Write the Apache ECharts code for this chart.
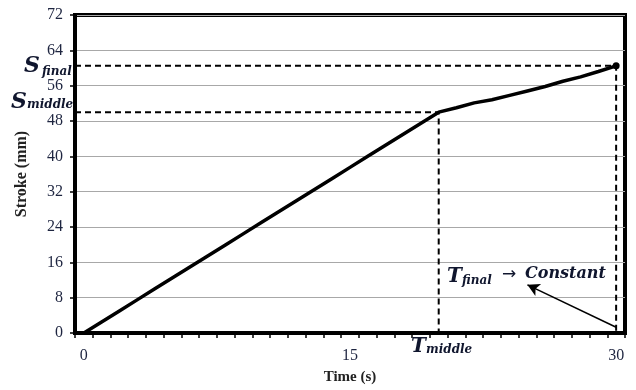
<!DOCTYPE html>
<html>
<head>
<meta charset="utf-8">
<script src="https://cdn.jsdelivr.net/npm/echarts@6/dist/echarts.min.js"></script>
<style>html,body{margin:0;padding:0;background:#fff}#c{width:636px;height:390px}</style>
</head>
<body>
<div id="c"></div>
<script>
// Time categories (s)
var times = [0,1,2,3,4,5,6,7,8,9,10,11,12,13,14,15,16,17,18,19,20,21,22,23,24,25,26,27,28,29,30];
// Stroke (mm)
var stroke = [0,2.5,5,7.5,10,12.5,15,17.5,20,22.5,25,27.5,30,32.5,35,37.5,40,42.5,45,47.5,50,51,52.1,52.8,53.8,54.8,55.8,57,58,59.2,60.5];
var xTickLabels = ['0','15','30'];
var yTicks = {min:0, max:72, step:8};
var tMiddle = 20, sMiddle = 50;
var tFinal = 30, sFinal = 60.5;
var arrowFrom = [30, 1.3], arrowTo = [25, 10.9];

var pts = times.map(function(t,i){
  var p = {value:[t, stroke[i]]};
  if (i === times.length-1) { p.symbol = 'circle'; p.symbolSize = 7; }
  return p;
});
var labelColor = '#1e2540';
var serif = '"Liberation Serif", "Times New Roman", serif';
var mathFont = '"DejaVu Serif", serif';
var annColor = '#10162e';

function mtext(txt, left, top, size){
  return {type:'text', left:left, top:top, z:10,
    style:{text:txt, fontFamily:mathFont, fontStyle:'italic', fontWeight:'bold', fontSize:size, fill:annColor}};
}

var chart = echarts.init(document.getElementById('c'));
chart.setOption({
  animation:false,
  grid:{left:75,right:11,top:15,bottom:57,show:true,borderColor:'#000',borderWidth:4,backgroundColor:'#fff'},
  xAxis:[{
    type:'category', data:times.map(String), boundaryGap:true,
    axisLine:{lineStyle:{color:'#000',width:4}},
    axisTick:{show:true,interval:0,length:5,lineStyle:{color:'#000',width:1.5}},
    axisLabel:{interval:0,margin:15,color:labelColor,fontFamily:serif,fontSize:16,
      formatter:function(v){return xTickLabels.indexOf(v)>=0?v:'';}},
    splitLine:{show:false},
    name:'Time (s)',nameLocation:'middle',nameGap:37,
    nameTextStyle:{fontFamily:serif,fontWeight:'bold',fontSize:15,color:'#222'}
  },{
    type:'value', min:-0.5, max:30.5, show:false
  }],
  yAxis:{
    type:'value', min:yTicks.min, max:yTicks.max, interval:yTicks.step,
    axisLine:{show:true,onZero:false,lineStyle:{color:'#000',width:4}},
    axisTick:{show:true,length:5,lineStyle:{color:'#000',width:1.5}},
    axisLabel:{margin:12,color:labelColor,fontFamily:serif,fontSize:16},
    splitLine:{lineStyle:{color:'#a8a8a8',width:1}},
    name:'Stroke (mm)',nameLocation:'middle',nameGap:45,nameRotate:90,
    nameTextStyle:{fontFamily:serif,fontWeight:'bold',fontSize:16,color:'#222'}
  },
  series:[{
    type:'line', xAxisIndex:1, data:[[-0.5,sFinal],[tFinal,sFinal],[tFinal,0]],
    showSymbol:false, lineStyle:{color:'#000',width:2,type:[6,4]}, z:3
  },{
    type:'line', xAxisIndex:1, data:[[-0.5,sMiddle],[tMiddle,sMiddle],[tMiddle,0]],
    showSymbol:false, lineStyle:{color:'#000',width:2,type:[6,4]}, z:3
  },{
    type:'line', xAxisIndex:1, data:pts, showSymbol:true, symbol:'none',
    itemStyle:{color:'#000'}, lineStyle:{color:'#000',width:3.5}, z:5,
    markLine:{silent:true, symbol:['none','arrow'], symbolSize:[10,12],
      lineStyle:{color:'#000',width:1.5,type:'solid'}, label:{show:false},
      data:[[{coord:arrowFrom},{coord:arrowTo}]]}
  }],
  graphic:[
    mtext('S', 24, 55, 22), mtext('final', 42, 66, 12),
    mtext('S', 11, 91, 22), mtext('middle', 27, 99, 12),
    mtext('T', 411, 337, 20), mtext('middle', 426, 344, 12),
    mtext('T', 447, 267, 20), mtext('final', 462, 275, 12),
    {type:'text', left:502, top:266, z:10, style:{text:'→', fontFamily:'"DejaVu Sans", sans-serif', fontSize:17, fill:annColor}},
    mtext('Constant', 525, 266, 16)
  ]
});
</script>
</body>
</html>
